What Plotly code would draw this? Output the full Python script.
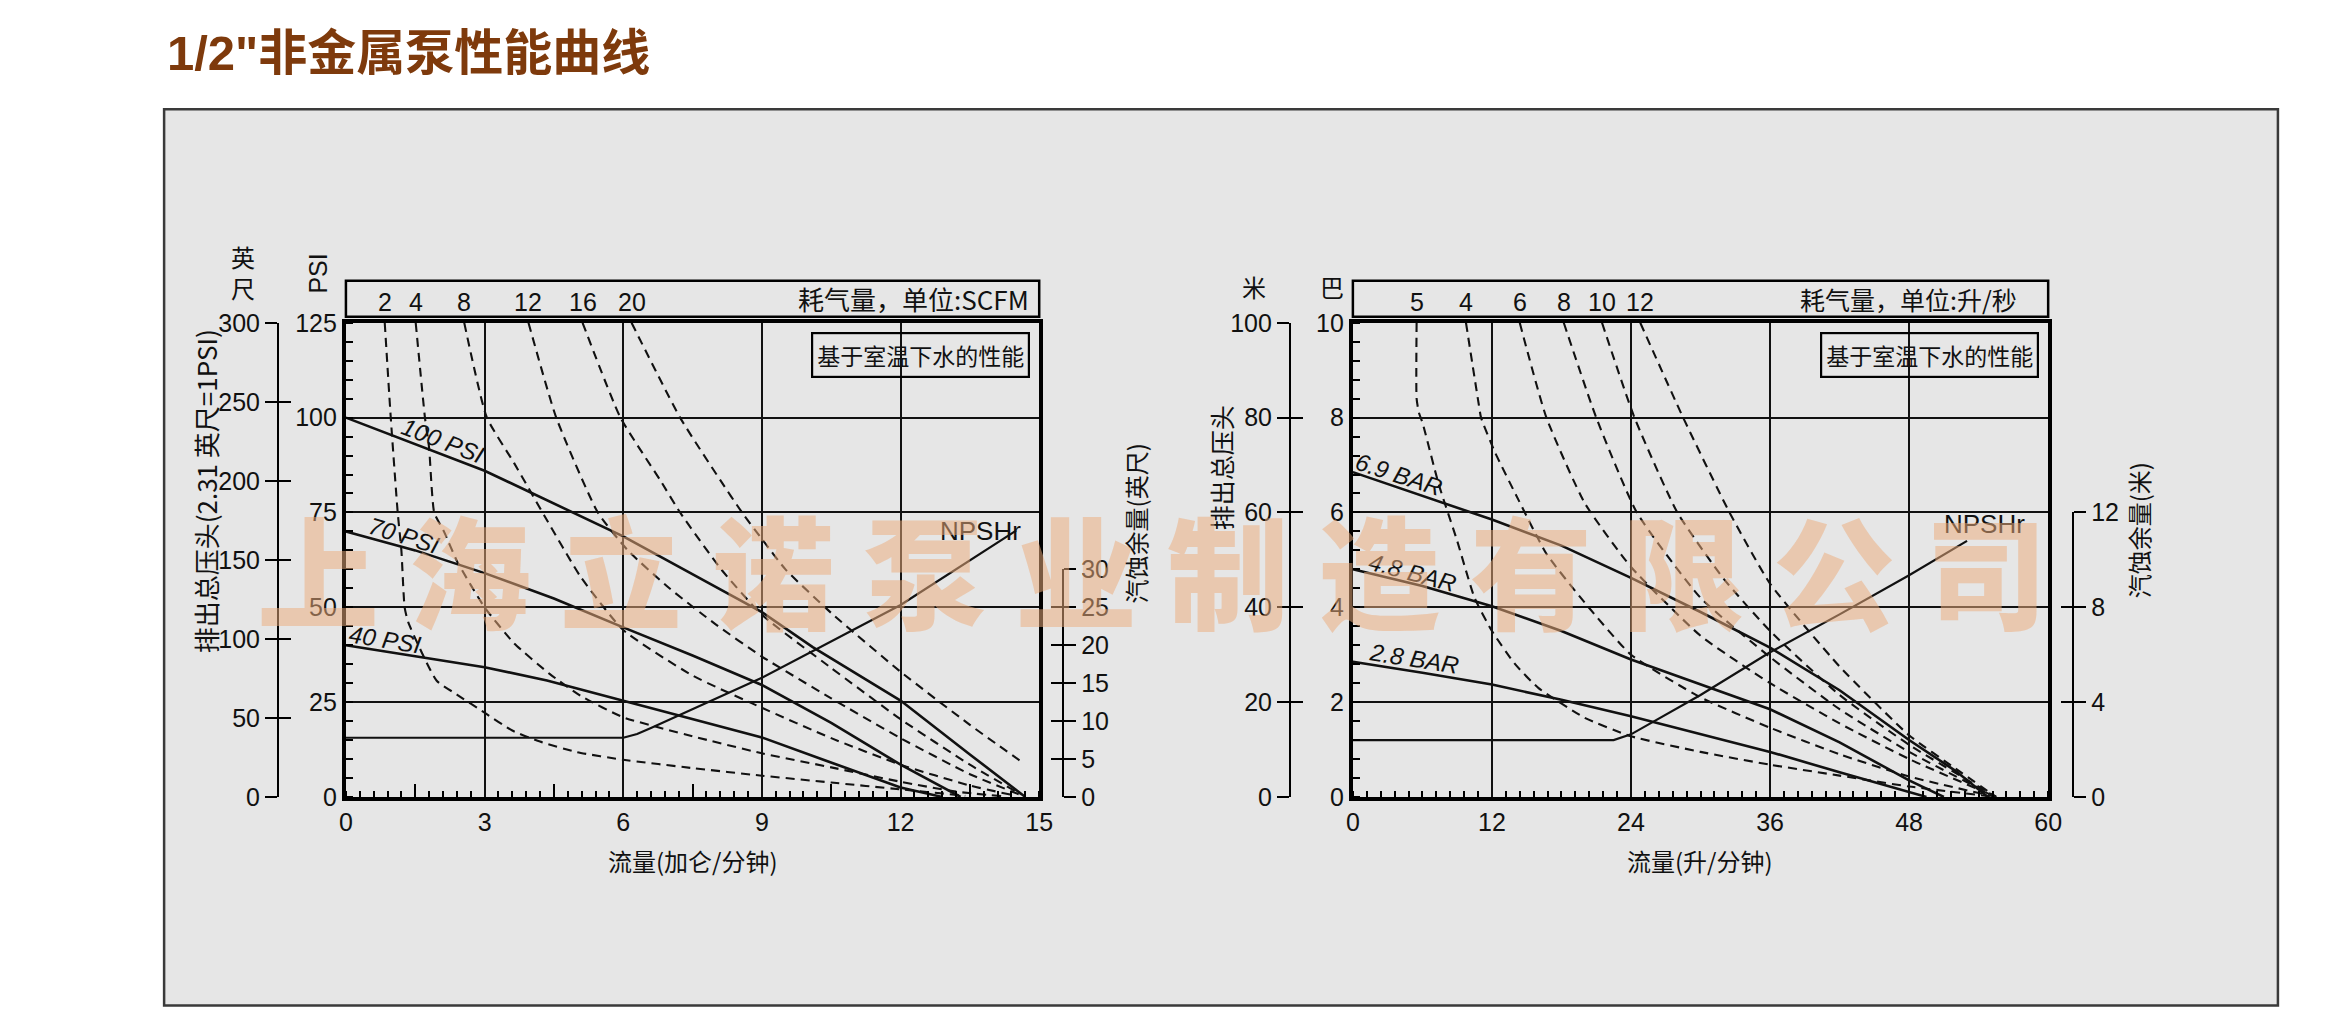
import plotly.graph_objects as go

W, H = 2343, 1030          # browser window
PAGE_MARGIN = 8            # default <body> margin of the page
FIG_W, FIG_H = W - 2 * PAGE_MARGIN, H - 2 * PAGE_MARGIN
# measured capture mapping (page px -> picture px) used to place things where they should land
CAP_SX, CAP_OX = 0.992, 5.8
CAP_SY, CAP_OY = 0.970, 15.2

# ================= LEFT CHART (US units) =================
gpm_ticks = [0, 3, 6, 9, 12, 15]
psi_ticks = [0, 25, 50, 75, 100, 125]
feet_ticks = [0, 50, 100, 150, 200, 250, 300]
npsh_ft_ticks = [0, 5, 10, 15, 20, 25, 30]

psi_names = ["100 PSI", "70 PSI", "40 PSI"]
psi100_gpm = [0, 3, 6, 9, 10.1, 12, 13.5, 14.7]
psi100_val = [100, 86, 68.7, 48.7, 39.5, 25.4, 11.2, 0]
psi70_gpm = [0, 1.5, 3, 4.5, 6, 7.5, 9, 10.5, 12, 13.3]
psi70_val = [70, 65, 59, 52.3, 44.7, 37.3, 29.5, 19.5, 8.5, 0]
psi40_gpm = [0, 3, 4.35, 6, 7.6, 9, 10.6, 12, 12.9]
psi40_val = [40, 34.2, 30.7, 25.4, 20.1, 15.7, 8.6, 2.5, 0]

npshr_l_gpm = [0, 6.0, 6.3, 6.6, 9, 12, 14.5]
npshr_l_ft = [7.8, 7.8, 8.3, 9.1, 15.7, 25.3, 35.1]

scfm_labels = ["2", "4", "8", "12", "16", "20"]
scfm2_gpm = [0.84, 0.97, 1.12, 1.2, 1.27, 1.35, 1.96, 2.4, 3.0, 3.6, 4.2, 5.0, 6.0, 7.5, 9.0, 10.5, 12.0, 13.4]
scfm2_psi = [125, 100, 75, 65, 50, 46, 30.7, 27, 22.2, 17.5, 14.6, 11.8, 9.8, 7.6, 5.6, 3.8, 2.0, 0.3]
scfm4_gpm = [1.51, 1.71, 1.8, 1.91, 2.12, 2.41, 3.0, 3.64, 4.4, 5.1, 6.0, 7.5, 9.0, 10.5, 12.0, 13.2, 14.2]
scfm4_psi = [125, 100, 92, 75, 70, 62, 50, 40.5, 32.5, 26.5, 21, 16, 11.5, 7.8, 4.0, 1.4, 0.2]
scfm8_gpm = [2.56, 3.05, 3.64, 4.3, 5.08, 6.0, 7.5, 9.0, 10.5, 12.0, 13.5, 14.5]
scfm8_psi = [125, 100, 88, 74, 58, 44, 32, 23.5, 15.5, 8.5, 3.0, 0.3]
scfm12_gpm = [3.95, 4.55, 5.45, 6.1, 7.0, 8.0, 9.0, 10.5, 12.0, 13.5, 14.6]
scfm12_psi = [125, 100, 75, 65, 55, 45.5, 37, 26, 15.5, 6.0, 0.5]
scfm16_gpm = [5.12, 5.94, 6.8, 7.23, 8.12, 9.0, 10.5, 12.0, 13.5, 14.6]
scfm16_psi = [125, 100, 83.5, 75, 60, 48, 34, 20.5, 8.5, 0.7]
scfm20_gpm = [6.18, 7.23, 8.1, 8.57, 9.0, 9.51, 10.5, 12.0, 13.5, 14.65]
scfm20_psi = [125, 100, 83.5, 75, 68, 60, 48.5, 33, 19, 9]

# ================= RIGHT CHART (metric units) =================
lpm_ticks = [0, 12, 24, 36, 48, 60]
bar_ticks = [0, 2, 4, 6, 8, 10]
meter_ticks = [0, 20, 40, 60, 80, 100]
npsh_m_ticks = [0, 4, 8, 12]

bar_names = ["6.9 BAR", "4.8 BAR", "2.8 BAR"]
bar69_lpm = [0, 6, 12, 18, 24, 30, 36, 42, 48, 52, 54.8]
bar69_val = [6.85, 6.35, 5.85, 5.3, 4.62, 3.9, 3.15, 2.25, 1.2, 0.55, 0]
bar48_lpm = [0, 6, 12, 18, 24, 30, 36, 42, 48, 51]
bar48_val = [4.8, 4.45, 4.02, 3.5, 2.9, 2.38, 1.85, 1.15, 0.35, 0]
bar28_lpm = [0, 6, 12, 18, 24, 30, 36, 42, 48, 49.5]
bar28_val = [2.85, 2.62, 2.37, 2.05, 1.7, 1.32, 0.95, 0.52, 0.1, 0]

npshr_r_lpm = [0, 22.5, 24, 30, 36, 42, 48, 53]
npshr_r_m = [2.4, 2.4, 2.64, 4.3, 6.1, 7.7, 9.35, 10.8]

lps_labels = ["5", "4", "6", "8", "10", "12"]
lps5_lpm = [5.5, 5.5, 5.7, 6.0, 7.4, 9.0, 10.5, 12, 14, 16, 20, 24, 30, 36, 42, 48, 55.5]
lps5_bar = [10, 8.4, 8.1, 7.9, 6.6, 5.4, 4.2, 3.5, 2.8, 2.3, 1.67, 1.28, 0.95, 0.68, 0.45, 0.22, 0]
lps4_lpm = [9.76, 10.85, 11.06, 12.3, 14.3, 16.7, 20, 24, 30, 36, 42, 48, 55.5]
lps4_bar = [10, 8.3, 8.0, 7.25, 6.26, 5.13, 4.1, 3.0, 2.1, 1.46, 0.9, 0.43, 0]
lps6_lpm = [14.4, 16.7, 20, 24, 30, 36, 42, 48, 55.5]
lps6_bar = [10, 8, 6.2, 4.85, 3.4, 2.4, 1.55, 0.8, 0]
lps8_lpm = [18.2, 21, 24.5, 30, 36, 42, 48, 55.5]
lps8_bar = [10, 8, 6, 4.2, 2.95, 1.85, 0.95, 0]
lps10_lpm = [21.5, 24.3, 28, 32, 36, 42, 48, 55.5]
lps10_bar = [10, 8, 6, 4.6, 3.5, 2.15, 1.1, 0]
lps12_lpm = [24.8, 28.5, 32.5, 36, 42, 48, 52, 55.5]
lps12_bar = [10, 8, 6, 4.5, 2.75, 1.3, 0.6, 0]

# ================= layout helpers (target picture-pixel geometry) =================
def X(p):
    return ((p - CAP_OX) / CAP_SX - PAGE_MARGIN) / FIG_W


def Y(p):
    return 1 - ((p - CAP_OY) / CAP_SY - PAGE_MARGIN) / FIG_H


L_X0, L_X1 = 345, 1039
R_X0, R_X1 = 1353, 2049
P_TOP, P_BOT = 323, 796
YDOM = [Y(P_BOT), Y(P_TOP)]
NPSH_FT_FULL = 62.5   # feet of NPSH at the top of the left plot
NPSH_M_FULL = 20.0    # metres of NPSH at the top of the right plot

NARROW = "Liberation Sans Narrow, Arial Narrow, Liberation Sans, Noto Sans CJK SC, sans-serif"
CJK = "Noto Sans CJK SC, sans-serif"
INK = "#111111"
tick_font = dict(family=NARROW, size=25, color=INK)

fig = go.Figure()

solid = dict(color=INK, width=2.6)
dashed = dict(color=INK, width=2.1, dash="9px,6px")

# ---- left traces
for xs, ys in [(psi100_gpm, psi100_val), (psi70_gpm, psi70_val), (psi40_gpm, psi40_val)]:
    fig.add_trace(go.Scatter(x=xs, y=ys, mode="lines", line=solid, xaxis="x", yaxis="y"))
left_air = [(scfm2_gpm, scfm2_psi), (scfm4_gpm, scfm4_psi), (scfm8_gpm, scfm8_psi),
            (scfm12_gpm, scfm12_psi), (scfm16_gpm, scfm16_psi), (scfm20_gpm, scfm20_psi)]
for xs, ys in left_air:
    fig.add_trace(go.Scatter(x=xs, y=ys, mode="lines", line=dict(dashed, shape="spline", smoothing=0.5),
                             xaxis="x", yaxis="y"))
fig.add_trace(go.Scatter(x=npshr_l_gpm, y=npshr_l_ft, mode="lines", line=dict(color=INK, width=2.2),
                         xaxis="x", yaxis="y2"))

# ---- right traces
for xs, ys in [(bar69_lpm, bar69_val), (bar48_lpm, bar48_val), (bar28_lpm, bar28_val)]:
    fig.add_trace(go.Scatter(x=xs, y=ys, mode="lines", line=solid, xaxis="x2", yaxis="y7"))
right_air = [(lps5_lpm, lps5_bar), (lps4_lpm, lps4_bar), (lps6_lpm, lps6_bar),
             (lps8_lpm, lps8_bar), (lps10_lpm, lps10_bar), (lps12_lpm, lps12_bar)]
for xs, ys in right_air:
    fig.add_trace(go.Scatter(x=xs, y=ys, mode="lines", line=dict(dashed, shape="spline", smoothing=0.5),
                             xaxis="x2", yaxis="y7"))
fig.add_trace(go.Scatter(x=npshr_r_lpm, y=npshr_r_m, mode="lines", line=dict(color=INK, width=2.2),
                         xaxis="x2", yaxis="y8"))

# ---- empty traces that make the decorative scale axes exist
for xa, ya in [("x", "y3"), ("x", "y4"), ("x", "y5"), ("x", "y6"), ("x3", "y"),
               ("x2", "y9"), ("x2", "y10"), ("x2", "y11"), ("x2", "y12")]:
    fig.add_trace(go.Scatter(x=[None], y=[None], xaxis=xa, yaxis=ya, hoverinfo="skip"))

frame = dict(showline=True, linewidth=4, linecolor="black", mirror=True, showgrid=True,
             gridcolor=INK, gridwidth=2, zeroline=False, ticks="", tickfont=tick_font,
             fixedrange=True)
minor_common = dict(ticks="inside", ticklen=7, tickwidth=1.6, tickcolor="black", showgrid=False)


def scale_axis(rng, vals, pos, side, domain, ticks, labels):
    return dict(domain=domain, range=rng, anchor="free", position=pos, side=side,
                tickmode="array", tickvals=vals, ticks=ticks, ticklen=12, tickwidth=2,
                tickcolor="black", showline=labels, linewidth=2, linecolor="black",
                showgrid=False, zeroline=False, showticklabels=labels, tickfont=tick_font,
                fixedrange=True)


npsh_l_dom = [YDOM[0], YDOM[0] + (YDOM[1] - YDOM[0]) * npsh_ft_ticks[-1] / NPSH_FT_FULL]
npsh_r_dom = [YDOM[0], YDOM[0] + (YDOM[1] - YDOM[0]) * npsh_m_ticks[-1] / NPSH_M_FULL]

layout_axes = dict(
    xaxis=dict(frame, domain=[X(L_X0), X(L_X1)], range=[gpm_ticks[0], gpm_ticks[-1]], anchor="y",
               tickmode="array", tickvals=gpm_ticks,
               minor=dict(minor_common, tickmode="linear", tick0=0, dtick=0.3, ticklen=6)),
    xaxis3=dict(range=[gpm_ticks[0], gpm_ticks[-1]], overlaying="x", anchor="y", tickmode="linear",
                tick0=1.5, dtick=3, ticks="inside", ticklen=13, tickwidth=2, tickcolor="black",
                showticklabels=False, showline=False, showgrid=False, zeroline=False, fixedrange=True),
    yaxis=dict(frame, domain=YDOM, range=[psi_ticks[0], psi_ticks[-1]], anchor="x",
               tickmode="array", tickvals=psi_ticks,
               minor=dict(minor_common, tickmode="linear", tick0=0, dtick=5)),
    yaxis2=dict(range=[0, NPSH_FT_FULL], overlaying="y", anchor="x", visible=False, fixedrange=True),
    yaxis3=scale_axis([feet_ticks[0], feet_ticks[-1]], feet_ticks, X(277), "left", YDOM, "outside", True),
    yaxis4=dict(scale_axis([feet_ticks[0], feet_ticks[-1]], feet_ticks, X(277), "left", YDOM, "inside", False),
                overlaying="y3"),
    yaxis5=scale_axis([0, npsh_ft_ticks[-1]], npsh_ft_ticks, X(1063), "right", npsh_l_dom, "outside", True),
    yaxis6=dict(scale_axis([0, npsh_ft_ticks[-1]], npsh_ft_ticks, X(1063), "right", npsh_l_dom, "inside", False),
                overlaying="y5"),
    xaxis2=dict(frame, domain=[X(R_X0), X(R_X1)], range=[lpm_ticks[0], lpm_ticks[-1]], anchor="y7",
                tickmode="array", tickvals=lpm_ticks,
                minor=dict(minor_common, tickmode="linear", tick0=0, dtick=1.2, ticklen=6)),
    yaxis7=dict(frame, domain=YDOM, range=[bar_ticks[0], bar_ticks[-1]], anchor="x2",
                tickmode="array", tickvals=bar_ticks,
                minor=dict(minor_common, tickmode="linear", tick0=0, dtick=0.4)),
    yaxis8=dict(range=[0, NPSH_M_FULL], overlaying="y7", anchor="x2", visible=False, fixedrange=True),
    yaxis9=scale_axis([meter_ticks[0], meter_ticks[-1]], meter_ticks, X(1290), "left", YDOM, "outside", True),
    yaxis10=dict(scale_axis([meter_ticks[0], meter_ticks[-1]], meter_ticks, X(1290), "left", YDOM, "inside", False),
                 overlaying="y9"),
    yaxis11=scale_axis([0, npsh_m_ticks[-1]], npsh_m_ticks, X(2074), "right", npsh_r_dom, "outside", True),
    yaxis12=dict(scale_axis([0, npsh_m_ticks[-1]], npsh_m_ticks, X(2074), "right", npsh_r_dom, "inside", False),
                 overlaying="y11"),
)

# ---- shapes: grey panel and the two air-consumption header boxes
HDR_Y0 = (P_BOT - 317) / (P_BOT - P_TOP)
HDR_Y1 = (P_BOT - 281) / (P_BOT - P_TOP)
shapes = [
    dict(type="rect", xref="paper", yref="paper", x0=X(163), x1=X(2279), y0=Y(1004), y1=Y(110),
         fillcolor="#E6E6E6", line=dict(color="#3a3a3a", width=2.5), layer="below"),
    dict(type="rect", xref="x domain", yref="y domain", x0=0, x1=1, y0=HDR_Y0, y1=HDR_Y1,
         line=dict(color="black", width=2.5)),
    dict(type="rect", xref="x2 domain", yref="y7 domain", x0=0, x1=1, y0=HDR_Y0, y1=HDR_Y1,
         line=dict(color="black", width=2.5)),
]

ann = []


def text(x, y, s, size=22, xref="paper", yref="paper", xanchor="center", yanchor="middle",
         angle=0, family=CJK, color=INK, **kw):
    ann.append(dict(x=x, y=y, text=s, xref=xref, yref=yref, xanchor=xanchor, yanchor=yanchor,
                    textangle=angle, showarrow=False, font=dict(family=family, size=size, color=color), **kw))


# title
text(X(164), Y(54), '1/2"非金属泵性能曲线', size=49, xanchor="left", color="#7E3A0C",
     family="Liberation Sans, Noto Sans CJK SC, sans-serif")
ann[-1]["font"]["weight"] = 700

# header labels (air consumption)
HDR_TXT_Y = (P_BOT - 302) / (P_BOT - P_TOP)
for lab, (xs, _) in zip(scfm_labels, left_air):
    text(xs[0], HDR_TXT_Y, lab, size=25, xref="x", yref="y domain", family=NARROW)
for lab, (xs, _) in zip(lps_labels, right_air):
    text(xs[0], HDR_TXT_Y, lab, size=25, xref="x2", yref="y7 domain", family=NARROW)
text(0.988, (P_BOT - 299) / (P_BOT - P_TOP), "耗气量，单位:SCFM", size=26, xref="x domain",
     yref="y domain", xanchor="right", family="Liberation Sans Narrow, Noto Sans CJK SC, sans-serif")
text(0.958, (P_BOT - 299) / (P_BOT - P_TOP), "耗气量，单位:升/秒", size=25, xref="x2 domain",
     yref="y7 domain", xanchor="right", family="Liberation Sans Narrow, Noto Sans CJK SC, sans-serif")

# "based on water at room temperature" boxes
for xr, yr in [("x domain", "y domain"), ("x2 domain", "y7 domain")]:
    text(0.987, 0.98, "基于室温下水的性能", size=23, xref=xr, yref=yr, xanchor="right", yanchor="top",
         bordercolor="black", borderwidth=2.2, borderpad=4)

# curve labels
lab_font = "Liberation Sans Narrow, Liberation Sans, sans-serif"
for s, x, y, a in zip(psi_names, [2.09, 1.26, 0.85], [93.9, 69.0, 41.6], [21, 17, 9]):
    text(x, y, "<i>%s</i>" % s, size=24, xref="x", yref="y", angle=a, family=lab_font)
for s, x, y, a in zip(bar_names, [3.96, 5.16, 5.25], [6.79, 4.74, 2.93], [18, 15, 9]):
    text(x, y, "<i>%s</i>" % s, size=24, xref="x2", yref="y7", angle=a, family=lab_font)

# NPSHr labels
text(npshr_l_gpm[-1] + 0.15, npshr_l_ft[-1], "NPSHr", size=26, xref="x", yref="y2", xanchor="right",
     family="Liberation Sans, sans-serif")
text(npshr_r_lpm[-1] + 1.5, npshr_r_m[-1], "NPSHr", size=26, xref="x2", yref="y8", yanchor="bottom",
     family="Liberation Sans, sans-serif")

# axis titles
text(X(242), Y(272), "英<br>尺", size=24)
text(X(317), Y(274), "PSI", size=25, angle=-90, family=NARROW)
text(X(204), Y(491), "排出总压头(2.31 英尺=1PSI)", size=26, angle=-90,
     family="Liberation Sans Narrow, Noto Sans CJK SC, sans-serif")
text(X(1135), Y(523), "汽蚀余量(英尺)", size=24, angle=-90)
text(X(692), Y(859), "流量(加仑/分钟)", size=24)
text(X(1254), Y(287), "米", size=24)
text(X(1332), Y(287), "巴", size=24)
text(X(1221), Y(468), "排出总压头", size=25, angle=-90)
text(X(2139), Y(530), "汽蚀余量(米)", size=24, angle=-90)
text(X(1700), Y(859), "流量(升/分钟)", size=24)

# watermark
WM = "上海立诺泵业制造有限公司"
for i, ch in enumerate(WM):
    text(X(317 + i * 151.8), Y(566), ch, size=122, color="rgba(235,172,125,0.52)",
         family="Noto Sans CJK SC Black, Noto Sans CJK SC, sans-serif")
    ann[-1]["font"]["weight"] = 900

fig.update_layout(
    width=FIG_W, height=FIG_H, autosize=False, margin=dict(l=0, r=0, t=0, b=0),
    paper_bgcolor="white", plot_bgcolor="rgba(0,0,0,0)", showlegend=False,
    shapes=shapes, annotations=ann, hovermode=False, **layout_axes,
)

fig.write_html("out.html", config={"displayModeBar": False, "responsive": False})
